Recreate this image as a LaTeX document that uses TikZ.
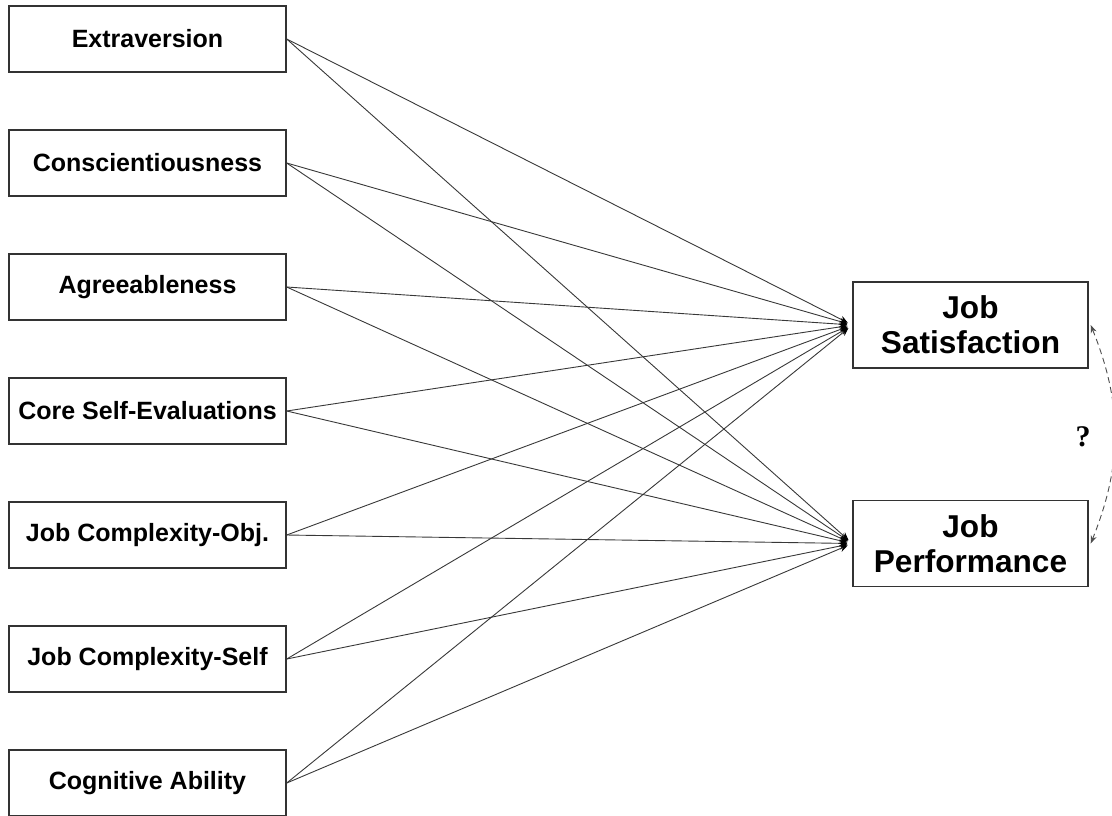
\documentclass[tikz,border=0pt]{standalone}
\usepackage{fontspec}
\setmainfont{Liberation Sans}
\newfontfamily\qserif{Liberation Serif}
\usetikzlibrary{arrows.meta}
\begin{document}
\begin{tikzpicture}[x=0.5pt,y=-0.5pt,
  srcbox/.style={draw=black!80,line width=0.7pt,minimum width=138.5pt,minimum height=33pt,inner sep=0pt,font=\fontsize{12.5}{14}\selectfont\bfseries},
  outbox/.style={draw=black!80,line width=0.7pt,minimum width=117.5pt,minimum height=43pt,inner sep=0pt,align=center,font=\fontsize{15.8}{17.5}\selectfont\bfseries},
  path/.style={draw=black!78,line width=0.45pt,-{Stealth[length=4pt,width=3.5pt,black]},shorten >=2.5pt},
  corr/.style={draw=black!70,line width=0.45pt,dashed,dash pattern=on 3pt off 2pt,{Stealth[length=4pt,width=3pt]}-{Stealth[length=4pt,width=3pt]}}
]
\useasboundingbox (0,0) rectangle (1112,815);
\clip (0,0) rectangle (1112,815);
\node[srcbox] (e) at (147.5,39) {Extraversion};
\node[srcbox] (c) at (147.5,163) {Conscientiousness};
\node[srcbox] (a) at (147.5,287) {Agreeableness};
\node[srcbox] (cse) at (147.5,411) {Core Self-Evaluations};
\node[srcbox] (jco) at (147.5,535) {Job Complexity-Obj.};
\node[srcbox] (jcs) at (147.5,659) {Job Complexity-Self};
\node[srcbox] (ca) at (147.5,783) {Cognitive Ability};
\node[outbox] (js) at (970.5,325) {Job\\Satisfaction};
\node[outbox] (jp) at (970.5,543.5) {Job\\Performance};
\foreach \s in {e,c,a,cse,jco,jcs,ca}{
  \draw[path] (\s.east) -- (js.west);
  \draw[path] (\s.east) -- (jp.west);
}
\draw[corr] ([xshift=1pt]js.east) to[bend left=22] ([xshift=1pt]jp.east);
\node[font=\qserif\fontsize{15}{17}\selectfont\bfseries] (q) at (1083,437) {?};
\end{tikzpicture}
\end{document}
